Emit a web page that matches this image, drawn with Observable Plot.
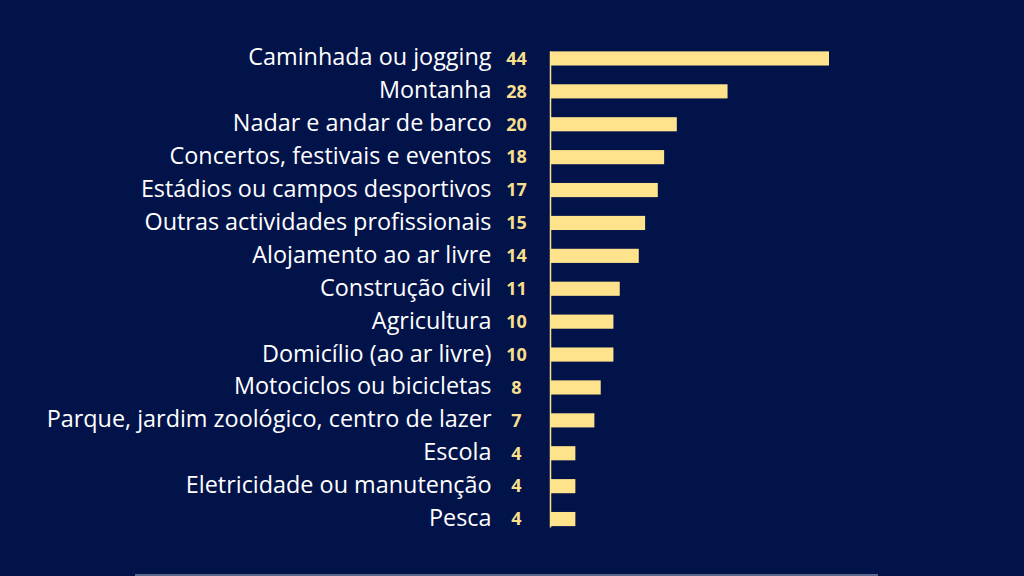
<!DOCTYPE html>
<html>
<head>
<meta charset="utf-8">
<script src="https://cdn.jsdelivr.net/npm/d3@7"></script>
<script src="https://cdn.jsdelivr.net/npm/@observablehq/plot@0.6"></script>
<style>
  html, body { margin: 0; padding: 0; background: #02134a; }
  #wrap { position: relative; width: 1024px; height: 576px; overflow: hidden; background: #02134a; }
  #rule { position: absolute; left: 135px; top: 574px; width: 743px; height: 2px; background: #5a6890; }
</style>
</head>
<body>
<div id="wrap"><div id="rule"></div></div>
<script>
const categories = [
  "Caminhada ou jogging",
  "Montanha",
  "Nadar e andar de barco",
  "Concertos, festivais e eventos",
  "Estádios ou campos desportivos",
  "Outras actividades profissionais",
  "Alojamento ao ar livre",
  "Construção civil",
  "Agricultura",
  "Domicílio (ao ar livre)",
  "Motociclos ou bicicletas",
  "Parque, jardim zoológico, centro de lazer",
  "Escola",
  "Eletricidade ou manutenção",
  "Pesca"
];
const values = [44, 28, 20, 18, 17, 15, 14, 11, 10, 10, 8, 7, 4, 4, 4];

const data = categories.map((c, i) => ({category: c, value: values[i]}));
const pad = 0.57;

const chart = Plot.plot({
  width: 1024,
  height: 576,
  marginLeft: 550,
  marginRight: 195,
  marginTop: 42,
  marginBottom: 40.5,
  style: {background: "#02134a", fontFamily: "'Open Sans', sans-serif"},
  x: {domain: [0, 44], axis: null},
  y: {domain: categories, padding: pad, paddingOuter: pad / 2, round: false, label: null},
  marks: [
    Plot.barX(data, {x: "value", y: "category", fill: "#fee38c"}),
    Plot.ruleX([0], {stroke: "#fee38c", strokeWidth: 1.5, insetTop: 9.5, insetBottom: 8}),
    Plot.axisY({tickSize: 0, tickPadding: 59, fontSize: 23.4, fill: "#ffffff", label: null, dy: -1}),
    Plot.text(data, {x: 0, y: "category", text: d => String(d.value), dx: -34, textAnchor: "middle",
      fill: "#f7df8c", fontWeight: "bold", fontSize: 18})
  ]
});
document.getElementById("wrap").prepend(chart);
</script>
</body>
</html>
